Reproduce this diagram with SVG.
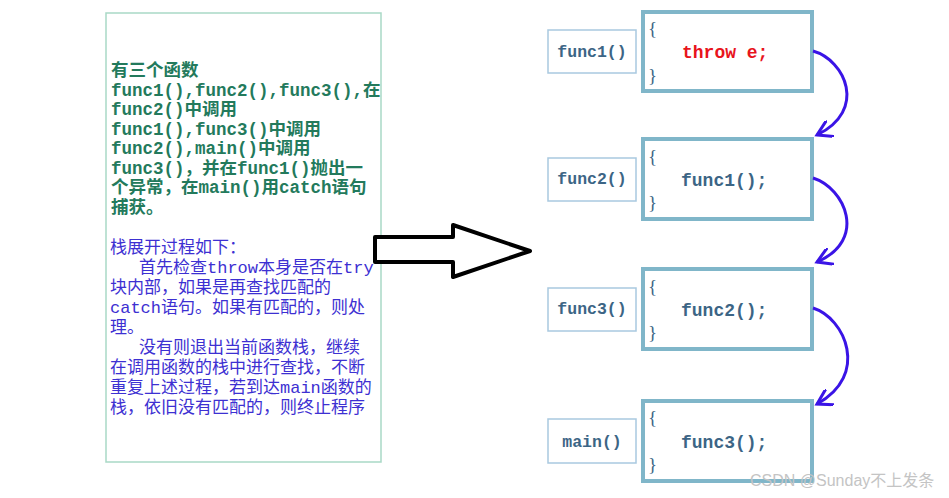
<svg xmlns="http://www.w3.org/2000/svg" width="949" height="498" viewBox="0 0 949 498">
<defs>
<style>
.panel{fill:#fff;stroke:#a9d9c6;stroke-width:1.5}
.g{font-family:"Liberation Mono","Noto Sans CJK SC",monospace;font-size:17.5px;font-weight:bold;fill:#237a5c}
.p{font-family:"Liberation Mono","Noto Sans CJK SC",monospace;font-size:17px;fill:#3d30d2}
.big{fill:#fff;stroke:#80b6c9;stroke-width:4}
.lbl{fill:#fff;stroke:#a9c9e0;stroke-width:1.5}
.lt{font-family:"Liberation Mono",monospace;font-size:16.5px;font-weight:bold;fill:#3c6585;text-anchor:middle}
.code{font-family:"Liberation Mono",monospace;font-size:18px;font-weight:bold;fill:#3c6585}
.red{fill:#e8141c}
.br{font-family:"Liberation Serif",serif;font-size:19px;fill:#3c6585}
.conn{fill:none;stroke:#3a14e6;stroke-width:3}
.wm{font-family:"Liberation Sans","Noto Sans CJK SC",sans-serif;font-size:16px;fill:#c4c4c4}
</style>
<marker id="ah" viewBox="0 0 12 12" refX="10" refY="6" markerWidth="6" markerHeight="6" markerUnits="strokeWidth" orient="auto">
<path d="M0,0 L10,6 L0,12" fill="none" stroke="#3a14e6" stroke-width="2"/>
</marker>
</defs>
<rect width="949" height="498" fill="#fff"/>
<g id="panel">
<rect class="panel" x="106" y="13" width="275" height="449"/>
<text class="g"><tspan x="111" y="76">有三个函数</tspan><tspan x="111" y="96">func1(),func2(),func3(),在</tspan><tspan x="111" y="115">func2()中调用</tspan><tspan x="111" y="135">func1(),func3()中调用</tspan><tspan x="111" y="154">func2(),main()中调用</tspan><tspan x="111" y="174">func3()，并在func1()抛出一</tspan><tspan x="111" y="193">个异常，在main()用catch语句</tspan><tspan x="111" y="213">捕获。</tspan></text>
<text class="p"><tspan x="110" y="253">栈展开过程如下：</tspan><tspan x="139" y="273">首先检查throw本身是否在try</tspan><tspan x="110" y="293">块内部，如果是再查找匹配的</tspan><tspan x="110" y="313">catch语句。如果有匹配的，则处</tspan><tspan x="110" y="333">理。</tspan><tspan x="139" y="353">没有则退出当前函数栈，继续</tspan><tspan x="110" y="373">在调用函数的栈中进行查找，不断</tspan><tspan x="110" y="393">重复上述过程，若到达main函数的</tspan><tspan x="110" y="413">栈，依旧没有匹配的，则终止程序</tspan></text>
</g>
<g id="bigarrow">
<polygon points="375,237 453,237 453,225 530,251 453,277 453,262 375,262" fill="#fff" stroke="#000" stroke-width="4" stroke-linejoin="round"/>
</g>
<g id="func1">
<rect class="lbl" x="548" y="30" width="88" height="43"/>
<text class="lt" x="592" y="57">func1()</text>
<rect class="big" x="643" y="12" width="169" height="79"/>
<text class="br" x="648" y="35">{</text>
<text class="code red" x="682" y="58">throw e;</text>
<text class="br" x="648" y="82">}</text>
</g>
<g id="func2">
<rect class="lbl" x="548" y="158" width="88" height="43"/>
<text class="lt" x="592" y="184">func2()</text>
<rect class="big" x="643" y="139" width="169" height="80"/>
<text class="br" x="648" y="163">{</text>
<text class="code" x="681" y="186">func1();</text>
<text class="br" x="648" y="209">}</text>
</g>
<g id="func3">
<rect class="lbl" x="548" y="288" width="88" height="43"/>
<text class="lt" x="592" y="314">func3()</text>
<rect class="big" x="643" y="269" width="169" height="80"/>
<text class="br" x="648" y="293">{</text>
<text class="code" x="681" y="316">func2();</text>
<text class="br" x="648" y="339">}</text>
</g>
<g id="main">
<rect class="lbl" x="548" y="419" width="88" height="44"/>
<text class="lt" x="592" y="447">main()</text>
<rect class="big" x="643" y="401" width="169" height="80"/>
<text class="br" x="648" y="424">{</text>
<text class="code" x="681" y="448">func3();</text>
<text class="br" x="648" y="471">}</text>
</g>
<g id="connectors">
<path class="conn" d="M813,51 C845,60 868,110 817,135" marker-end="url(#ah)"/>
<path class="conn" d="M813,178 C845,188 868,240 817,262" marker-end="url(#ah)"/>
<path class="conn" d="M813,308 C845,318 870,375 817,404" marker-end="url(#ah)"/>
</g>
<text class="wm" x="750" y="486">CSDN @Sunday不上发条</text>
</svg>
